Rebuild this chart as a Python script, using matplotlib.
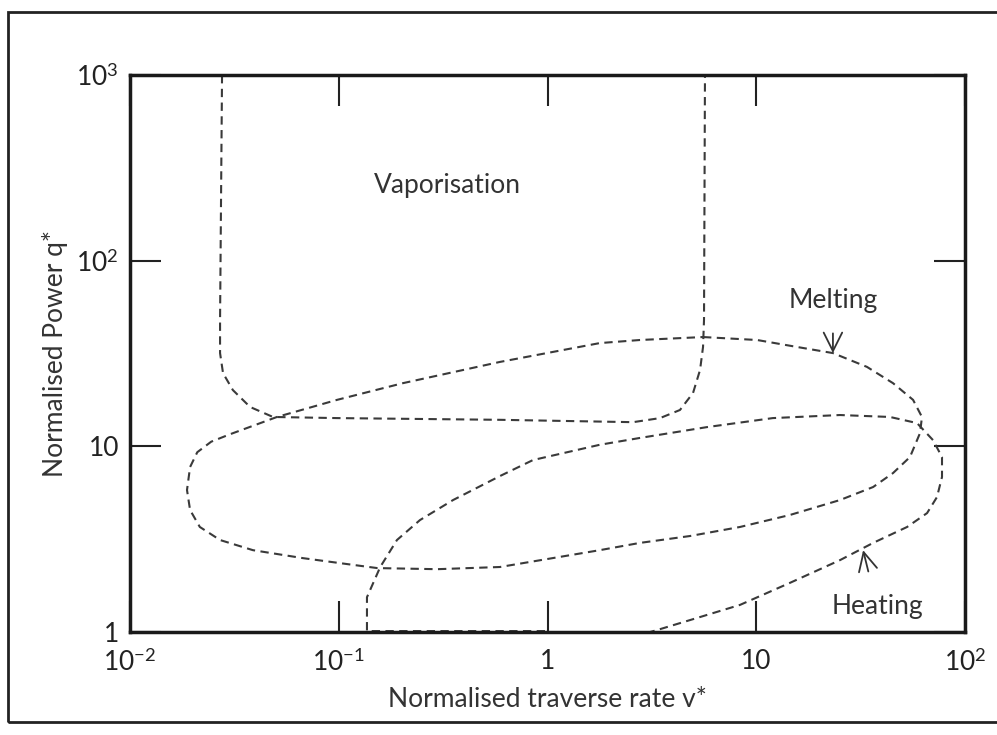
import matplotlib.pyplot as plt
from matplotlib.patches import Rectangle

plt.rcParams['font.family'] = ['Lato', 'DejaVu Sans']
plt.rcParams['mathtext.fontset'] = 'custom'
plt.rcParams['mathtext.rm'] = 'Lato'
plt.rcParams['mathtext.it'] = 'Lato:italic'

# Região de vaporização (aberta em cima)
vap_x = [0.0276, 0.0270, 0.0270, 0.0279, 0.0311, 0.0376, 0.0484, 0.0981,
         0.592, 2.57, 3.46, 4.31, 4.98, 5.38, 5.56, 5.62, 5.68]
vap_y = [1000, 47.9, 31.8, 24.8, 20.1, 16.3, 14.4, 14.2,
         13.9, 13.5, 14.2, 15.7, 19.4, 25.8, 34.3, 47.9, 1000]

# Região de fusão (curva fechada)
melt_x = [5.56, 10.1, 15.7, 23.3, 33.9, 45.2, 56.4, 62.2, 60.9, 54.5, 45.2,
          36.3, 25.2, 14.5, 8.36, 4.82, 2.77, 1.78, 0.592, 0.296, 0.153,
          0.117, 0.0674, 0.0388, 0.0270, 0.0216, 0.0194, 0.01875, 0.0194,
          0.0210, 0.0245, 0.0300, 0.0506, 0.0981, 0.203, 0.592, 1.78, 2.77, 5.56]
melt_y = [38.8, 37.4, 34.3, 31.8, 26.8, 21.9, 17.8, 14.4, 11.8, 8.76, 7.18,
          6.04, 5.14, 4.27, 3.68, 3.29, 3.02, 2.76, 2.24, 2.18, 2.21,
          2.30, 2.50, 2.76, 3.13, 3.68, 4.54, 5.82, 7.74,
          9.3, 10.6, 11.6, 14.4, 17.8, 21.9, 28.5, 36.0, 37.4, 38.8]

# Região de aquecimento
heat_x = [0.973, 0.1365, 0.1365, 0.158, 0.190, 0.245, 0.353, 0.592, 0.852,
          1.78, 2.77, 5.81, 12.0, 25.2, 43.7, 58.9, 70.3, 77.6, 77.6, 73.4,
          65.8, 52.8, 36.3, 25.2, 14.5, 8.36, 4.82, 3.35, 3.10]
heat_y = [1.012, 1.012, 1.54, 2.24, 3.13, 4.01, 5.14, 6.92, 8.44,
          10.2, 11.1, 12.7, 14.2, 14.75, 14.4, 13.35, 10.8, 8.76, 6.84, 5.33,
          4.37, 3.68, 3.02, 2.44, 1.84, 1.40, 1.16, 1.025, 1.0]

x_ticks = [0.01, 0.1, 1, 10, 100]
x_labels = ['10$^{-2}$', '10$^{-1}$', '1', '10', '10$^{2}$']
y_ticks = [1, 10, 100, 1000]
y_labels = ['1', '10', '10$^{2}$', '10$^{3}$']

fig = plt.figure(figsize=(9.97, 7.35), dpi=100)
ax = fig.add_axes([0.1304, 0.1401, 0.8375, 0.7578])

# moldura externa da figura escaneada
fig.patches.append(Rectangle((0.008, 0.0177), 1.2, 0.9663, transform=fig.transFigure,
                             fill=False, lw=2, edgecolor='#222222'))

estilo = dict(color='#3a3a3a', lw=1.5, linestyle=(0, (4, 2.6)))
ax.plot(vap_x, vap_y, **estilo)
ax.plot(melt_x, melt_y, **estilo)
ax.plot(heat_x, heat_y, **estilo)

ax.set_xscale('log')
ax.set_yscale('log')
ax.set_xlim(0.01, 100)
ax.set_ylim(1, 1000)

ax.set_xticks(x_ticks)
ax.set_xticklabels(x_labels)
ax.set_yticks(y_ticks)
ax.set_yticklabels(y_labels)
ax.minorticks_off()
ax.tick_params(direction='in', length=22, width=1.5, labelsize=19, colors='#222222',
               top=True, right=True)
ax.tick_params(axis='x', pad=12)
ax.tick_params(axis='y', pad=8)

for s in ax.spines.values():
    s.set_linewidth(2.5)
    s.set_color('#1a1a1a')

ax.set_xlabel('Normalised traverse rate v*', fontsize=19, color='#333333', labelpad=8)
ax.set_ylabel('Normalised Power q*', fontsize=19, color='#333333', labelpad=6)

seta = dict(arrowstyle='->,head_length=0.7,head_width=0.35', color='#333333', lw=1.3, shrinkB=0)
ax.text(0.333, 255, 'Vaporisation', fontsize=19, color='#333333', ha='center', va='center')
ax.annotate('Melting', xy=(23.3, 31.8), xytext=(23.3, 61.4), fontsize=19,
            color='#333333', ha='center', va='center',
            arrowprops=dict(seta, shrinkA=13))
ax.annotate('Heating', xy=(32.5, 2.76), xytext=(37.9, 1.364), fontsize=19,
            color='#333333', ha='center', va='center',
            arrowprops=dict(seta, shrinkA=15))

plt.savefig('out.png', dpi=100)
